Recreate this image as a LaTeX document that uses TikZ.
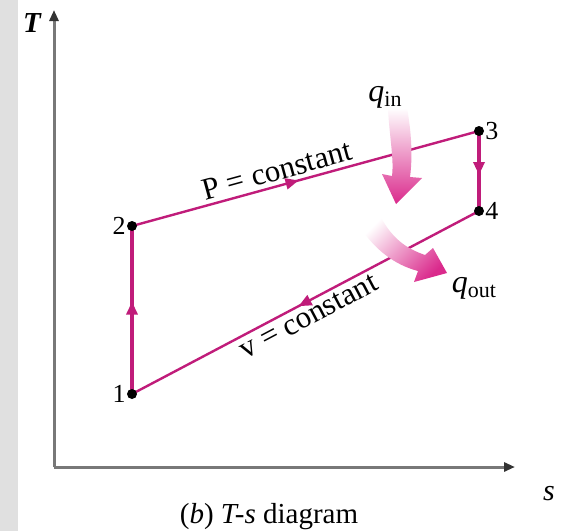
\documentclass[tikz,border=0pt]{standalone}
\usepackage{fontspec}
\setmainfont{Liberation Serif}
\usetikzlibrary{arrows.meta,decorations.markings}
\pgfdeclarelayer{bg}
\pgfsetlayers{bg,main}
\definecolor{mag}{RGB}{192,28,122}
\definecolor{pinkfill}{RGB}{218,42,140}
\definecolor{axisgray}{RGB}{120,120,120}
\definecolor{strip}{RGB}{224,224,224}
\tikzset{
  axisline/.style={draw=axisgray, line width=3pt, -{Triangle[length=11pt,width=9pt,fill=black!80,color=black!80]}},
  cyc/.style={draw=mag, line width=2.4pt},
  cycthick/.style={draw=mag, line width=3.6pt},
  midarrow/.style={postaction={decorate}, decoration={markings, mark=at position #1 with {\arrow{Triangle[length=13pt,width=11pt,color=mag]}}}},
  statept/.style={circle, fill=black, inner sep=0pt, minimum size=10pt},
  numlabel/.style={font=\fontsize{26}{26}\selectfont, inner sep=1pt},
  linelabel/.style={font=\fontsize{31}{31}\selectfont, inner sep=1pt},
  qlabel/.style={font=\fontsize{32}{32}\selectfont},
  fatarrow/.style={draw=none},
}
\newcommand{\qsub}[1]{\textit{q}\raisebox{-0.35ex}{\fontsize{22}{22}\selectfont #1}}
\begin{document}
\begin{tikzpicture}[x=1pt,y=-1pt]
\useasboundingbox (0,0) rectangle (571,531);
\begin{pgfonlayer}{bg}
\fill[white] (0,0) rectangle (571,531);
\fill[strip] (0,0) rectangle (18,531);
\end{pgfonlayer}
% axes
\coordinate (O) at (54,467);
\coordinate (Ttop) at (54,10);
\coordinate (Send) at (515,467);
\draw[axisline] (O) -- (Ttop);
\draw[axisline] (O) -- (Send);
\node[font=\fontsize{29}{29}\selectfont\itshape\bfseries] (Tlab) at (32,23) {T};
\node[font=\fontsize{30}{30}\selectfont\itshape] (slab) at (549,494) {s};
% states
\node[statept] (p1) at (132,394) {};
\node[statept] (p2) at (132,226) {};
\node[statept] (p3) at (479,131) {};
\node[statept] (p4) at (479,211) {};
\node[numlabel, anchor=east] (l1) at (p1.west) {1};
\node[numlabel, anchor=east] (l2) at (p2.west) {2};
\node[numlabel, anchor=west] (l3) at (p3.east) {3};
\node[numlabel, anchor=west] (l4) at (p4.east) {4};
% cycle
\begin{pgfonlayer}{bg}
\draw[cycthick, midarrow=0.55] (p1.center) -- (p2.center);
\draw[cyc, midarrow=0.48] (p2.center) -- node[pos=0.43, sloped, anchor=south, linelabel, yshift=3pt] (plab) {P = constant} (p3.center);
\draw[cycthick, midarrow=0.55] (p3.center) -- (p4.center);
\draw[cyc, midarrow=0.52] (p4.center) -- node[pos=0.51, sloped, anchor=north, linelabel, yshift=-3pt] (vlab) {v = constant} (p1.center);
\end{pgfonlayer}
% heat arrows
\path[fatarrow, top color=white, bottom color=pinkfill]
  (388,110) .. controls (390,140) and (394,160) .. (392,176)
  -- (382,174) -- (396,204) -- (422,178) -- (410,177)
  .. controls (413,155) and (411,130) .. (407,108) -- cycle;
\path[fatarrow, top color=white, bottom color=pinkfill, shading angle=45]
  (380,216) .. controls (392,238) and (405,248) .. (425,255)
  -- (433,248) -- (447,273) -- (414,282) -- (418,271)
  .. controls (395,265) and (375,250) .. (360,227) -- cycle;
\node[qlabel] (qin) at (385,97) {\qsub{in}};
\node[qlabel] (qout) at (474,288) {\qsub{out}};
% caption
\node[font=\fontsize{29}{29}\selectfont] (cap) at (269,517) {(\textit{b}) \textit{T-s} diagram};
\end{tikzpicture}
\end{document}
